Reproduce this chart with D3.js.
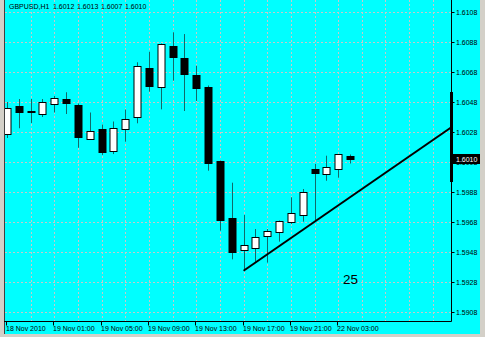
<!DOCTYPE html>
<html>
<head>
<meta charset="utf-8">
<script src="https://cdn.jsdelivr.net/npm/d3@7.9.0/dist/d3.min.js"></script>
<style>
  body { margin: 0; background: #d4d0c8; }
  svg { display: block; font-family: "Liberation Sans", Arial, sans-serif; }
</style>
</head>
<body>
<svg id="chart" width="485" height="337"></svg>
<script>
// GBPUSD H1 bars, oldest first
const open  = [1.6027, 1.6045, 1.6042, 1.6040, 1.6047, 1.6050, 1.6046, 1.60235, 1.6030, 1.60155,
               1.6030, 1.6038, 1.6071, 1.6058, 1.60855, 1.60775, 1.6066, 1.6058, 1.60087, 1.59707,
               1.59493, 1.59511, 1.59591, 1.59611, 1.59678, 1.59725, 1.60035, 1.59998, 1.60033, 1.6012];
const high  = [1.6048, 1.6050, 1.6050, 1.6050, 1.6052, 1.60545, 1.6047, 1.6041, 1.6033, 1.6035,
               1.6043, 1.60745, 1.60815, 1.6087, 1.60945, 1.60933, 1.60722, 1.6059, 1.6009, 1.59942,
               1.59727, 1.59633, 1.59633, 1.5969, 1.59845, 1.599, 1.60067, 1.60122, 1.60131, 1.6013];
const low   = [1.6024, 1.60305, 1.6034, 1.6038, 1.6041, 1.6040, 1.60175, 1.60227, 1.60127, 1.60133,
               1.60215, 1.60338, 1.60549, 1.60431, 1.60622, 1.6042, 1.60487, 1.60022, 1.59622, 1.59431,
               1.59355, 1.59415, 1.59409, 1.59549, 1.59667, 1.59682, 1.59693, 1.59955, 1.59975, 1.6007];
const close = [1.6044, 1.6041, 1.6041, 1.6048, 1.6051, 1.6047, 1.60245, 1.6029, 1.6015, 1.60305,
               1.6037, 1.60722, 1.60593, 1.60865, 1.60782, 1.60671, 1.60571, 1.60075, 1.59693, 1.59482,
               1.59525, 1.59582, 1.59622, 1.59685, 1.59738, 1.59878, 1.60005, 1.60045, 1.60131, 1.6010];

const timeIdx    = [0, 4, 8, 12, 16, 20, 24, 28];
const timeLabels = ['18 Nov 2010', '19 Nov 01:00', '19 Nov 05:00', '19 Nov 09:00',
                    '19 Nov 13:00', '19 Nov 17:00', '19 Nov 21:00', '22 Nov 03:00'];
const priceTicks = [1.5908, 1.5928, 1.5948, 1.5968, 1.5988, 1.6008, 1.6028, 1.6048, 1.6068, 1.6088, 1.6108];

const trendIdx   = [20, 37.6];
const trendPrice = [1.59355, 1.60313];
const lastPrice  = 1.6010;

const svg = d3.select('#chart');
const W = 485, H = 337;
const left = 5, right = 451.5, bottom = 321.5;

const x = d3.scaleLinear().domain([0, 29]).range([7, 350]);
const y = d3.scaleLinear().domain([1.5908, 1.6108]).range([312, 12]);

svg.append('rect').attr('width', W).attr('height', H).attr('fill', '#00ffff');

// clip for the plot area
svg.append('clipPath').attr('id', 'plot')
  .append('rect').attr('x', left).attr('y', 0).attr('width', right - left).attr('height', bottom);

const plot = svg.append('g').attr('clip-path', 'url(#plot)');

// grid
const gridIdx = d3.range(2, 38, 2);
plot.selectAll('.vgrid').data(gridIdx).enter().append('line')
  .attr('x1', d => Math.round(x(d)) + 0.5).attr('x2', d => Math.round(x(d)) + 0.5)
  .attr('y1', 0).attr('y2', bottom)
  .attr('stroke', '#c8c8c8').attr('stroke-dasharray', '2,2');
plot.selectAll('.hgrid').data(priceTicks).enter().append('line')
  .attr('x1', left).attr('x2', right)
  .attr('y1', d => Math.round(y(d)) + 0.5).attr('y2', d => Math.round(y(d)) + 0.5)
  .attr('stroke', '#c8c8c8').attr('stroke-dasharray', '2,2');

// candles
const bars = d3.range(open.length);
plot.selectAll('.wick').data(bars).enter().append('line')
  .attr('x1', i => Math.round(x(i)) + 0.5).attr('x2', i => Math.round(x(i)) + 0.5)
  .attr('y1', i => y(high[i])).attr('y2', i => y(low[i]))
  .attr('stroke', '#106a6a');

plot.selectAll('.body').data(bars).enter().append('rect')
  .attr('x', i => Math.round(x(i)) - 3)
  .attr('y', i => Math.round(y(Math.max(open[i], close[i]))) + 0.5)
  .attr('width', 7)
  .attr('height', i => Math.max(1, Math.round(Math.abs(y(open[i]) - y(close[i])))))
  .attr('fill', i => close[i] >= open[i] ? '#ffffff' : '#000000')
  .attr('stroke', '#000000');

// trend line
plot.append('line')
  .attr('x1', x(trendIdx[0])).attr('y1', y(trendPrice[0]))
  .attr('x2', x(trendIdx[1])).attr('y2', y(trendPrice[1]))
  .attr('stroke', '#000000').attr('stroke-width', 2);

plot.append('text')
  .attr('x', 343).attr('y', 284)
  .attr('font-size', 13.5).attr('fill', '#000')
  .text('25');

// frame
svg.append('rect').attr('x', 0).attr('y', 0).attr('width', 4).attr('height', H).attr('fill', '#d4d0c8');
svg.append('rect').attr('x', 480).attr('y', 0).attr('width', 5).attr('height', H).attr('fill', '#d4d0c8');
svg.append('rect').attr('x', 0).attr('y', 334).attr('width', W).attr('height', 3).attr('fill', '#d4d0c8');
svg.append('line').attr('x1', 4.5).attr('x2', 4.5).attr('y1', 0).attr('y2', 334).attr('stroke', '#404040');
svg.append('line').attr('x1', 4).attr('x2', right).attr('y1', bottom).attr('y2', bottom).attr('stroke', '#000');
svg.append('line').attr('x1', right).attr('x2', right).attr('y1', 0).attr('y2', bottom).attr('stroke', '#000');
svg.append('line').attr('x1', right).attr('x2', right).attr('y1', 92).attr('y2', 182)
  .attr('stroke', '#000').attr('stroke-width', 3);

// title
svg.append('text').attr('x', 9).attr('y', 9).attr('font-size', 7).attr('fill', '#000')
  .text('GBPUSD,H1');
svg.selectAll('.ohlc').data([open[29], high[29], low[29], close[29]]).enter().append('text')
  .attr('x', (d, i) => 53 + i * 24).attr('y', 9).attr('font-size', 7).attr('fill', '#000')
  .text(d => d.toFixed(4));

// price axis
const yAxis = svg.append('g');
yAxis.selectAll('line').data(priceTicks).enter().append('line')
  .attr('x1', right).attr('x2', right + 3)
  .attr('y1', d => Math.round(y(d)) + 0.5).attr('y2', d => Math.round(y(d)) + 0.5)
  .attr('stroke', '#000');
yAxis.selectAll('text').data(priceTicks).enter().append('text')
  .attr('x', 456).attr('y', d => y(d) + 2.5)
  .attr('font-size', 7).attr('fill', '#000')
  .text(d => d.toFixed(4));

svg.append('rect').attr('x', 453).attr('y', y(lastPrice) - 5).attr('width', 27).attr('height', 10).attr('fill', '#000');
svg.append('text').attr('x', 456).attr('y', y(lastPrice) + 2.5).attr('font-size', 7).attr('fill', '#fff')
  .text(lastPrice.toFixed(4));

// time axis
const xAxis = svg.append('g');
xAxis.selectAll('line').data(timeIdx).enter().append('line')
  .attr('x1', d => Math.round(x(d)) - 0.5).attr('x2', d => Math.round(x(d)) - 0.5)
  .attr('y1', bottom).attr('y2', bottom + 4)
  .attr('stroke', '#000');
xAxis.selectAll('text').data(timeIdx).enter().append('text')
  .attr('x', d => Math.round(x(d)) - 1).attr('y', 330.5)
  .attr('font-size', 7).attr('fill', '#000')
  .text((d, i) => timeLabels[i]);
</script>
</body>
</html>
